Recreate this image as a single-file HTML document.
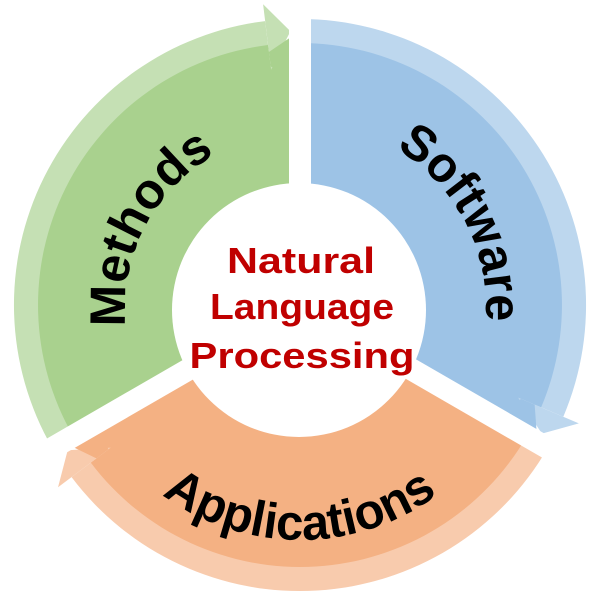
<!DOCTYPE html>
<html><head><meta charset="utf-8"><style>html,body{margin:0;padding:0;background:#fff;overflow:hidden;width:600px;height:600px}svg{display:block}</style></head>
<body>
<svg width="600" height="600" viewBox="0 0 600 600" xmlns="http://www.w3.org/2000/svg" style="overflow:hidden">
<g>
  <path fill="#c5e0b4" d="M52.3,448 A286 286 0 0 1 265.1,21.1 L285.4,185.9 A120 120 0 0 0 196.1,365 Z"/>
  <path fill="#a9d18e" d="M73.1,436 A262 262 0 0 1 268.1,45 L270.8,66.8 A240 240 0 0 1 300,65 L300,185 A120 120 0 0 0 196.1,365 Z"/>
  <polygon fill="#c5e0b4" points="263.1,4.3 290.4,31.2 271.1,69.8"/>
  <polygon fill="#a9d18e" points="268.9,52 291,37 291,70 270.8,66.8"/>
</g>
<g transform="rotate(120 300 305)">
  <path fill="#bdd7ee" d="M52.3,448 A286 286 0 0 1 265.1,21.1 L285.4,185.9 A120 120 0 0 0 196.1,365 Z"/>
  <path fill="#9dc3e6" d="M73.1,436 A262 262 0 0 1 268.1,45 L270.8,66.8 A240 240 0 0 1 300,65 L300,185 A120 120 0 0 0 196.1,365 Z"/>
  <polygon fill="#bdd7ee" points="263.1,4.3 290.4,31.2 271.1,69.8"/>
  <polygon fill="#9dc3e6" points="268.9,52 291,37 291,70 270.8,66.8"/>
</g>
<g transform="rotate(240 300 305)">
  <path fill="#f8cbad" d="M52.3,448 A286 286 0 0 1 265.1,21.1 L285.4,185.9 A120 120 0 0 0 196.1,365 Z"/>
  <path fill="#f4b183" d="M73.1,436 A262 262 0 0 1 268.1,45 L270.8,66.8 A240 240 0 0 1 300,65 L300,185 A120 120 0 0 0 196.1,365 Z"/>
  <polygon fill="#f8cbad" points="263.1,4.3 290.4,31.2 271.1,69.8"/>
  <polygon fill="#f4b183" points="268.9,52 291,37 291,70 270.8,66.8"/>
</g>
<g stroke="#fff" stroke-width="22">
  <line x1="300" y1="305" x2="300" y2="0"/>
  <line x1="300" y1="305" x2="30" y2="461"/>
  <line x1="300" y1="305" x2="570" y2="461"/>
</g>
<circle cx="299" cy="310" r="127" fill="#fff"/>
<g font-family="Liberation Sans, sans-serif" font-weight="bold" fill="#c00000" text-anchor="middle" font-size="36">
  <text x="301" y="273" textLength="148" lengthAdjust="spacingAndGlyphs">Natural</text>
  <text x="302" y="319" textLength="184" lengthAdjust="spacingAndGlyphs">Language</text>
  <text x="302" y="368" textLength="225" lengthAdjust="spacingAndGlyphs">Processing</text>
</g>
<path id="pm" d="M127.7,338.4 A175 175 0 0 1 226,149.4" fill="none"/>
<path id="ps" d="M378.6,139.4 A186 186 0 0 1 483.2,340.3" fill="none"/>
<path id="pa" d="M150.9,485.7 A232 232 0 0 0 449.1,485.7" fill="none"/>
<g font-family="Liberation Sans, sans-serif" font-weight="bold" fill="#000" font-size="50">
  <text text-anchor="middle"><textPath href="#pm" startOffset="50%" textLength="205" lengthAdjust="spacingAndGlyphs">Methods</textPath></text>
  <text text-anchor="middle"><textPath href="#ps" startOffset="50%" textLength="205" lengthAdjust="spacingAndGlyphs">Software</textPath></text>
  <text text-anchor="middle"><textPath href="#pa" startOffset="50%" textLength="295" lengthAdjust="spacingAndGlyphs">Applications</textPath></text>
</g>
</svg>
</body></html>
